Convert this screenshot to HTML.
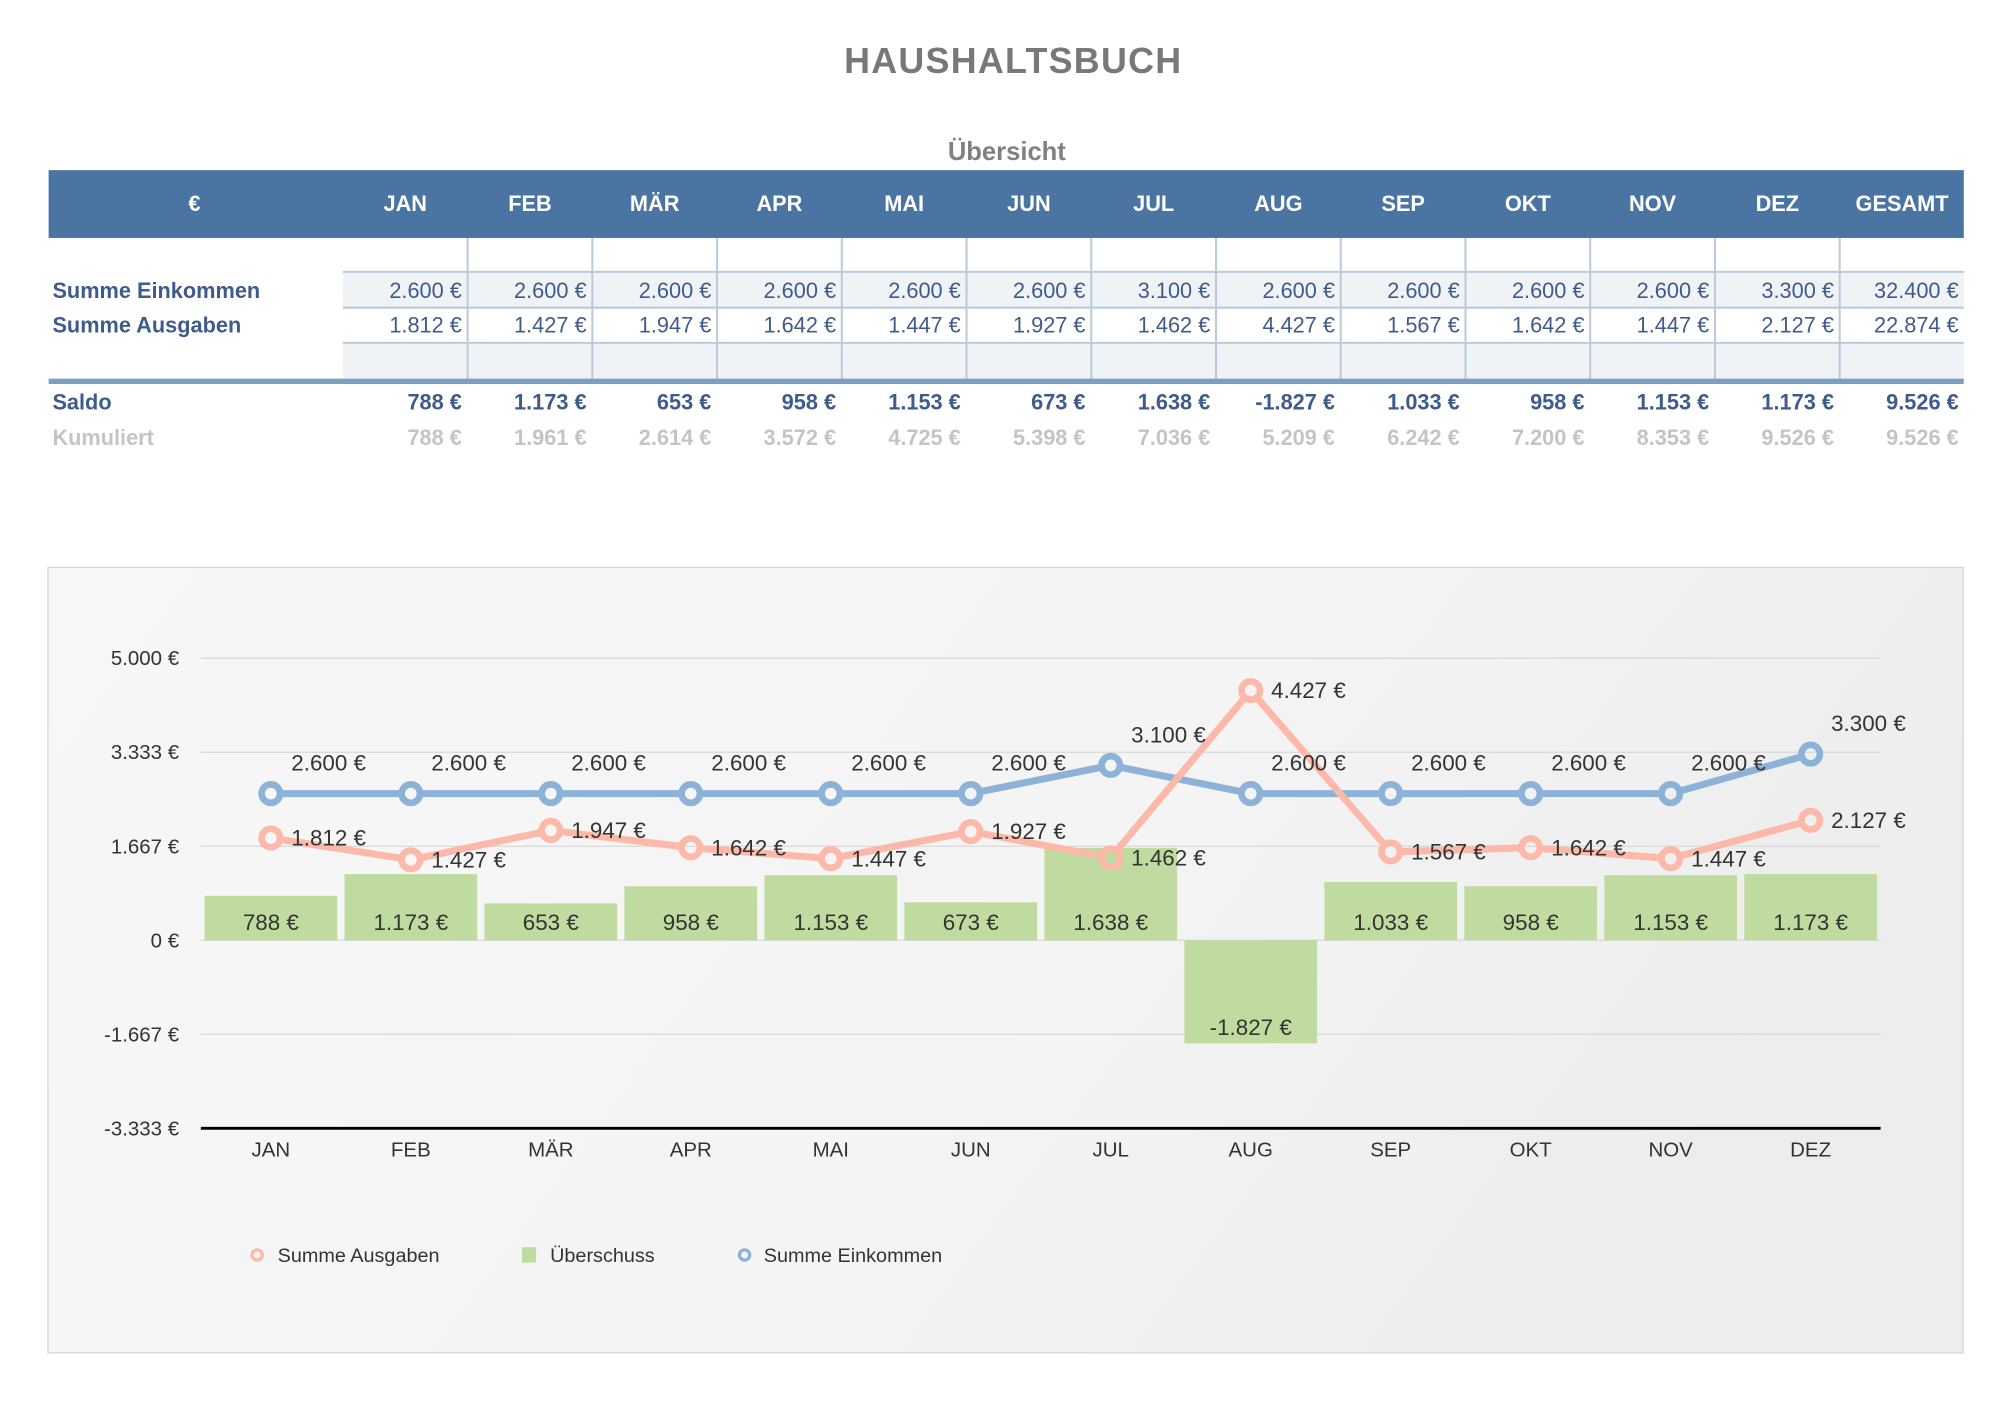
<!DOCTYPE html>
<html>
<head>
<meta charset="utf-8">
<style>
html,body{margin:0;padding:0;background:#fff;}
svg{display:block;}
text{font-family:"Liberation Sans",Arial,sans-serif;}
</style>
</head>
<body>
<svg width="2006" height="1420" viewBox="0 0 1568 1110" preserveAspectRatio="none" xmlns="http://www.w3.org/2000/svg">
<defs>
<linearGradient id="bg" x1="0" y1="0" x2="1" y2="0.3">
<stop offset="0" stop-color="#f7f7f7"/>
<stop offset="0.6" stop-color="#f4f4f4"/>
<stop offset="1" stop-color="#ededed"/>
</linearGradient>
<mask id="mB" maskUnits="userSpaceOnUse" x="0" y="0" width="1568" height="1110">
<rect x="0" y="0" width="1568" height="1110" fill="#fff"/>
<g fill="#000">
<circle cx="211.71" cy="620.34" r="4.6"/><circle cx="321.13" cy="620.34" r="4.6"/><circle cx="430.54" cy="620.34" r="4.6"/><circle cx="539.96" cy="620.34" r="4.6"/><circle cx="649.38" cy="620.34" r="4.6"/><circle cx="758.79" cy="620.34" r="4.6"/><circle cx="868.21" cy="598.29" r="4.6"/><circle cx="977.63" cy="620.34" r="4.6"/><circle cx="1087.04" cy="620.34" r="4.6"/><circle cx="1196.46" cy="620.34" r="4.6"/><circle cx="1305.88" cy="620.34" r="4.6"/><circle cx="1415.29" cy="589.47" r="4.6"/>
</g>
</mask>
<mask id="mS" maskUnits="userSpaceOnUse" x="0" y="0" width="1568" height="1110">
<rect x="0" y="0" width="1568" height="1110" fill="#fff"/>
<g fill="#000">
<circle cx="211.71" cy="655.09" r="4.6"/><circle cx="321.13" cy="672.07" r="4.6"/><circle cx="430.54" cy="649.14" r="4.6"/><circle cx="539.96" cy="662.59" r="4.6"/><circle cx="649.38" cy="671.19" r="4.6"/><circle cx="758.79" cy="650.02" r="4.6"/><circle cx="868.21" cy="670.53" r="4.6"/><circle cx="977.63" cy="539.77" r="4.6"/><circle cx="1087.04" cy="665.90" r="4.6"/><circle cx="1196.46" cy="662.59" r="4.6"/><circle cx="1305.88" cy="671.19" r="4.6"/><circle cx="1415.29" cy="641.20" r="4.6"/>
</g>
</mask>
</defs>

<!-- Title -->
<text x="792" y="57" text-anchor="middle" font-size="28" font-weight="bold" fill="#787878" letter-spacing="1">HAUSHALTSBUCH</text>
<text x="787" y="125" text-anchor="middle" font-size="20" font-weight="bold" fill="#808080">Übersicht</text>

<!-- Table header -->
<rect x="38" y="133" width="1497" height="53" fill="#4a74a1"/>
<g font-size="17" font-weight="bold" fill="#ffffff" text-anchor="middle">
<text x="152" y="165">€</text>
<text x="316.75" y="165">JAN</text>
<text x="414.25" y="165">FEB</text>
<text x="511.75" y="165">MÄR</text>
<text x="609.25" y="165">APR</text>
<text x="706.75" y="165">MAI</text>
<text x="804.25" y="165">JUN</text>
<text x="901.75" y="165">JUL</text>
<text x="999.25" y="165">AUG</text>
<text x="1096.75" y="165">SEP</text>
<text x="1194.25" y="165">OKT</text>
<text x="1291.75" y="165">NOV</text>
<text x="1389.25" y="165">DEZ</text>
<text x="1486.75" y="165">GESAMT</text>
</g>

<!-- Table body backgrounds -->
<rect x="268" y="212.5" width="1267" height="28" fill="#eff3f6"/>
<rect x="268" y="268" width="1267" height="28" fill="#eff3f6"/>
<g stroke="#b9cbdb" stroke-width="1.6">
<line x1="268" y1="212.5" x2="1535" y2="212.5"/>
<line x1="268" y1="240.5" x2="1535" y2="240.5"/>
<line x1="268" y1="268" x2="1535" y2="268"/>
<line x1="365.5" y1="186" x2="365.5" y2="296"/>
<line x1="463" y1="186" x2="463" y2="296"/>
<line x1="560.5" y1="186" x2="560.5" y2="296"/>
<line x1="658" y1="186" x2="658" y2="296"/>
<line x1="755.5" y1="186" x2="755.5" y2="296"/>
<line x1="853" y1="186" x2="853" y2="296"/>
<line x1="950.5" y1="186" x2="950.5" y2="296"/>
<line x1="1048" y1="186" x2="1048" y2="296"/>
<line x1="1145.5" y1="186" x2="1145.5" y2="296"/>
<line x1="1243" y1="186" x2="1243" y2="296"/>
<line x1="1340.5" y1="186" x2="1340.5" y2="296"/>
<line x1="1438" y1="186" x2="1438" y2="296"/>
</g>
<rect x="38" y="296" width="1497" height="4.2" fill="#7a9fc0"/>

<!-- Row labels -->
<g font-size="17" font-weight="bold" fill="#3f5b8c">
<text x="41" y="233">Summe Einkommen</text>
<text x="41" y="260">Summe Ausgaben</text>
<text x="41" y="320">Saldo</text>
</g>
<text x="41" y="348" font-size="17" font-weight="bold" fill="#c4c4c4">Kumuliert</text>

<!-- Einkommen values -->
<g font-size="17" fill="#3f5b8c" text-anchor="end">
<text x="361" y="233">2.600 €</text>
<text x="458.5" y="233">2.600 €</text>
<text x="556" y="233">2.600 €</text>
<text x="653.5" y="233">2.600 €</text>
<text x="751" y="233">2.600 €</text>
<text x="848.5" y="233">2.600 €</text>
<text x="946" y="233">3.100 €</text>
<text x="1043.5" y="233">2.600 €</text>
<text x="1141" y="233">2.600 €</text>
<text x="1238.5" y="233">2.600 €</text>
<text x="1336" y="233">2.600 €</text>
<text x="1433.5" y="233">3.300 €</text>
<text x="1531" y="233">32.400 €</text>
</g>
<!-- Ausgaben values -->
<g font-size="17" fill="#3f5b8c" text-anchor="end">
<text x="361" y="260">1.812 €</text>
<text x="458.5" y="260">1.427 €</text>
<text x="556" y="260">1.947 €</text>
<text x="653.5" y="260">1.642 €</text>
<text x="751" y="260">1.447 €</text>
<text x="848.5" y="260">1.927 €</text>
<text x="946" y="260">1.462 €</text>
<text x="1043.5" y="260">4.427 €</text>
<text x="1141" y="260">1.567 €</text>
<text x="1238.5" y="260">1.642 €</text>
<text x="1336" y="260">1.447 €</text>
<text x="1433.5" y="260">2.127 €</text>
<text x="1531" y="260">22.874 €</text>
</g>
<!-- Saldo values -->
<g font-size="17" font-weight="bold" fill="#3f5b8c" text-anchor="end">
<text x="361" y="320">788 €</text>
<text x="458.5" y="320">1.173 €</text>
<text x="556" y="320">653 €</text>
<text x="653.5" y="320">958 €</text>
<text x="751" y="320">1.153 €</text>
<text x="848.5" y="320">673 €</text>
<text x="946" y="320">1.638 €</text>
<text x="1043.5" y="320">-1.827 €</text>
<text x="1141" y="320">1.033 €</text>
<text x="1238.5" y="320">958 €</text>
<text x="1336" y="320">1.153 €</text>
<text x="1433.5" y="320">1.173 €</text>
<text x="1531" y="320">9.526 €</text>
</g>
<!-- Kumuliert values -->
<g font-size="17" font-weight="bold" fill="#c4c4c4" text-anchor="end">
<text x="361" y="348">788 €</text>
<text x="458.5" y="348">1.961 €</text>
<text x="556" y="348">2.614 €</text>
<text x="653.5" y="348">3.572 €</text>
<text x="751" y="348">4.725 €</text>
<text x="848.5" y="348">5.398 €</text>
<text x="946" y="348">7.036 €</text>
<text x="1043.5" y="348">5.209 €</text>
<text x="1141" y="348">6.242 €</text>
<text x="1238.5" y="348">7.200 €</text>
<text x="1336" y="348">8.353 €</text>
<text x="1433.5" y="348">9.526 €</text>
<text x="1531" y="348">9.526 €</text>
</g>

<!-- Chart box -->
<rect x="37.5" y="443.5" width="1497" height="614" fill="url(#bg)" stroke="#d6d6d6" stroke-width="1"/>

<!-- Gridlines -->
<g stroke="#d9d9d9" stroke-width="1">
<line x1="157" y1="514.5" x2="1470" y2="514.5"/>
<line x1="157" y1="588" x2="1470" y2="588"/>
<line x1="157" y1="661.5" x2="1470" y2="661.5"/>
<line x1="157" y1="735" x2="1470" y2="735"/>
<line x1="157" y1="808.5" x2="1470" y2="808.5"/>
</g>
<line x1="157" y1="882" x2="1470" y2="882" stroke="#000" stroke-width="2.3"/>

<!-- Y labels -->
<g font-size="16" fill="#333" text-anchor="end">
<text x="140" y="520">5.000 €</text>
<text x="140" y="593.5">3.333 €</text>
<text x="140" y="667">1.667 €</text>
<text x="140" y="740.5">0 €</text>
<text x="140" y="814">-1.667 €</text>
<text x="140" y="887.5">-3.333 €</text>
</g>

<!-- X labels -->
<g font-size="16" fill="#333" text-anchor="middle">
<text x="211.71" y="904">JAN</text>
<text x="321.13" y="904">FEB</text>
<text x="430.54" y="904">MÄR</text>
<text x="539.96" y="904">APR</text>
<text x="649.38" y="904">MAI</text>
<text x="758.79" y="904">JUN</text>
<text x="868.21" y="904">JUL</text>
<text x="977.63" y="904">AUG</text>
<text x="1087.04" y="904">SEP</text>
<text x="1196.46" y="904">OKT</text>
<text x="1305.88" y="904">NOV</text>
<text x="1415.29" y="904">DEZ</text>
</g>

<!-- Bars -->
<g fill="#c0dba0">
<rect x="159.86" y="700.25" width="103.7" height="34.75"/>
<rect x="269.28" y="683.27" width="103.7" height="51.73"/>
<rect x="378.69" y="706.20" width="103.7" height="28.80"/>
<rect x="488.11" y="692.75" width="103.7" height="42.25"/>
<rect x="597.53" y="684.15" width="103.7" height="50.85"/>
<rect x="706.94" y="705.32" width="103.7" height="29.68"/>
<rect x="816.36" y="662.76" width="103.7" height="72.24"/>
<rect x="925.78" y="735" width="103.7" height="80.57"/>
<rect x="1035.19" y="689.44" width="103.7" height="45.56"/>
<rect x="1144.61" y="692.75" width="103.7" height="42.25"/>
<rect x="1254.03" y="684.15" width="103.7" height="50.85"/>
<rect x="1363.44" y="683.27" width="103.7" height="51.73"/>
</g>
<g font-size="17.5" fill="#333" text-anchor="middle">
<text x="211.71" y="727">788 €</text>
<text x="321.13" y="727">1.173 €</text>
<text x="430.54" y="727">653 €</text>
<text x="539.96" y="727">958 €</text>
<text x="649.38" y="727">1.153 €</text>
<text x="758.79" y="727">673 €</text>
<text x="868.21" y="727">1.638 €</text>
<text x="977.63" y="809">-1.827 €</text>
<text x="1087.04" y="727">1.033 €</text>
<text x="1196.46" y="727">958 €</text>
<text x="1305.88" y="727">1.153 €</text>
<text x="1415.29" y="727">1.173 €</text>
</g>

<!-- Einkommen line -->
<g mask="url(#mB)">
<polyline fill="none" stroke="#8db2d8" stroke-width="5.5" stroke-linejoin="round" points="211.71,620.34 321.13,620.34 430.54,620.34 539.96,620.34 649.38,620.34 758.79,620.34 868.21,598.29 977.63,620.34 1087.04,620.34 1196.46,620.34 1305.88,620.34 1415.29,589.47"/>
</g>
<g fill="none" stroke="#8db2d8" stroke-width="5.2">
<circle cx="211.71" cy="620.34" r="7.2"/><circle cx="321.13" cy="620.34" r="7.2"/><circle cx="430.54" cy="620.34" r="7.2"/><circle cx="539.96" cy="620.34" r="7.2"/><circle cx="649.38" cy="620.34" r="7.2"/><circle cx="758.79" cy="620.34" r="7.2"/><circle cx="868.21" cy="598.29" r="7.2"/><circle cx="977.63" cy="620.34" r="7.2"/><circle cx="1087.04" cy="620.34" r="7.2"/><circle cx="1196.46" cy="620.34" r="7.2"/><circle cx="1305.88" cy="620.34" r="7.2"/><circle cx="1415.29" cy="589.47" r="7.2"/>
</g>

<!-- Ausgaben line -->
<g mask="url(#mS)">
<polyline fill="none" stroke="#fcb9aa" stroke-width="5.5" stroke-linejoin="round" points="211.71,655.09 321.13,672.07 430.54,649.14 539.96,662.59 649.38,671.19 758.79,650.02 868.21,670.53 977.63,539.77 1087.04,665.90 1196.46,662.59 1305.88,671.19 1415.29,641.20"/>
</g>
<g fill="none" stroke="#fcb9aa" stroke-width="5.2">
<circle cx="211.71" cy="655.09" r="7.2"/><circle cx="321.13" cy="672.07" r="7.2"/><circle cx="430.54" cy="649.14" r="7.2"/><circle cx="539.96" cy="662.59" r="7.2"/><circle cx="649.38" cy="671.19" r="7.2"/><circle cx="758.79" cy="650.02" r="7.2"/><circle cx="868.21" cy="670.53" r="7.2"/><circle cx="977.63" cy="539.77" r="7.2"/><circle cx="1087.04" cy="665.90" r="7.2"/><circle cx="1196.46" cy="662.59" r="7.2"/><circle cx="1305.88" cy="671.19" r="7.2"/><circle cx="1415.29" cy="641.20" r="7.2"/>
</g>

<!-- Einkommen labels -->
<g font-size="17.5" fill="#333">
<text x="227.7" y="602.3">2.600 €</text>
<text x="337.1" y="602.3">2.600 €</text>
<text x="446.5" y="602.3">2.600 €</text>
<text x="556" y="602.3">2.600 €</text>
<text x="665.4" y="602.3">2.600 €</text>
<text x="774.8" y="602.3">2.600 €</text>
<text x="884.2" y="580.3">3.100 €</text>
<text x="993.6" y="602.3">2.600 €</text>
<text x="1103" y="602.3">2.600 €</text>
<text x="1212.5" y="602.3">2.600 €</text>
<text x="1321.9" y="602.3">2.600 €</text>
<text x="1431.3" y="571.5">3.300 €</text>
</g>
<!-- Ausgaben labels -->
<g font-size="17.5" fill="#333">
<text x="227.7" y="661.1">1.812 €</text>
<text x="337.1" y="678.1">1.427 €</text>
<text x="446.5" y="655.1">1.947 €</text>
<text x="556" y="668.6">1.642 €</text>
<text x="665.4" y="677.2">1.447 €</text>
<text x="774.8" y="656">1.927 €</text>
<text x="884.2" y="676.5">1.462 €</text>
<text x="993.6" y="545.8">4.427 €</text>
<text x="1103" y="671.9">1.567 €</text>
<text x="1212.5" y="668.6">1.642 €</text>
<text x="1321.9" y="677.2">1.447 €</text>
<text x="1431.3" y="647.2">2.127 €</text>
</g>

<!-- Legend -->
<circle cx="201" cy="981" r="4" fill="none" stroke="#fcb9aa" stroke-width="2.6"/>
<text x="217" y="986.5" font-size="15.5" fill="#333">Summe Ausgaben</text>
<rect x="408" y="975" width="11" height="12" fill="#c0dba0"/>
<text x="430" y="986.5" font-size="15.5" fill="#333">Überschuss</text>
<circle cx="582" cy="981" r="4" fill="none" stroke="#8db2d8" stroke-width="2.6"/>
<text x="597" y="986.5" font-size="15.5" fill="#333">Summe Einkommen</text>
</svg>
</body>
</html>
